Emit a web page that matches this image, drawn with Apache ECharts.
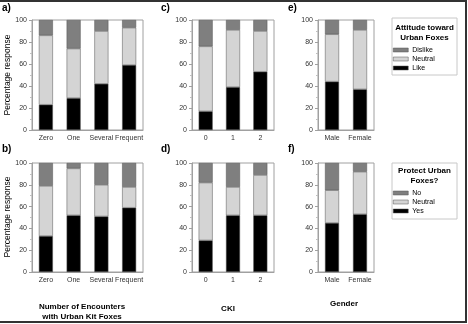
<!DOCTYPE html>
<html><head><meta charset="utf-8">
<script src="https://cdn.jsdelivr.net/npm/echarts@6/dist/echarts.min.js"></script>
<style>html,body{margin:0;padding:0;background:#fff}#c{width:468px;height:324px}</style>
</head><body><div id="c"></div>
<script>
// ---- data ----
const encounterCats = ['Zero', 'One', 'Several', 'Frequent'];
const ckiCats = ['0', '1', '2'];
const genderCats = ['Male', 'Female'];

// Attitude toward urban foxes (top row)
const aLike    = [23, 29, 42, 59];
const aNeutral = [63, 45, 48, 34];
const aDislike = [14, 26, 10, 7];
const cLike    = [17, 39, 53];
const cNeutral = [59, 52, 37];
const cDislike = [24, 9, 10];
const eLike    = [44, 37];
const eNeutral = [43, 54];
const eDislike = [13, 9];

// Protect urban foxes (bottom row)
const bYes     = [33, 52, 51, 59];
const bNeutral = [46, 43, 29, 19];
const bNo      = [21, 5, 20, 22];
const dYes     = [29, 52, 52];
const dNeutral = [53, 26, 37];
const dNo      = [18, 22, 11];
const fYes     = [45, 53];
const fNeutral = [30, 39];
const fNo      = [25, 8];

const yTicks = [0, 20, 40, 60, 80, 100];

// ---- chart ----
const FONT = 'Liberation Sans, Arial, sans-serif';
const C_DARK = '#7f7f7f', C_LIGHT = '#d4d4d4', C_BLACK = '#000000';

const gridDefs = [
  {left: 32,  top: 20,  width: 111, height: 110, cats: encounterCats, s: [aLike, aNeutral, aDislike], n: ['Like','Neutral','Dislike']},
  {left: 32,  top: 163, width: 111, height: 109, cats: encounterCats, s: [bYes, bNeutral, bNo], n: ['Yes','Neutral','No']},
  {left: 192, top: 20,  width: 82,  height: 110, cats: ckiCats, s: [cLike, cNeutral, cDislike], n: ['Like','Neutral','Dislike']},
  {left: 192, top: 163, width: 82,  height: 109, cats: ckiCats, s: [dYes, dNeutral, dNo], n: ['Yes','Neutral','No']},
  {left: 318, top: 20,  width: 56,  height: 110, cats: genderCats, s: [eLike, eNeutral, eDislike], n: ['Like','Neutral','Dislike']},
  {left: 318, top: 163, width: 56,  height: 109, cats: genderCats, s: [fYes, fNeutral, fNo], n: ['Yes','Neutral','No']}
];
const colors = [C_BLACK, C_LIGHT, C_DARK];

const grid = [], xAxis = [], yAxis = [], series = [];
gridDefs.forEach((g, i) => {
  grid.push({left: g.left, top: g.top, width: g.width, height: g.height, show: true,
    borderColor: '#a0a0a0', borderWidth: 1, backgroundColor: 'transparent'});
  xAxis.push({type: 'category', gridIndex: i, data: g.cats,
    axisLine: {show: true, lineStyle: {color: '#a0a0a0'}}, axisTick: {show: false},
    axisLabel: {fontFamily: FONT, fontSize: 7, color: '#333', margin: 5, interval: 0}});
  yAxis.push({type: 'value', gridIndex: i, min: yTicks[0], max: yTicks[yTicks.length-1], interval: 20,
    axisLine: {show: true, lineStyle: {color: '#a0a0a0'}},
    axisTick: {show: true, inside: false, length: 3, lineStyle: {color: '#a0a0a0'}},
    minorTick: {show: true, splitNumber: 2, length: 2, lineStyle: {color: '#c0c0c0'}},
    splitLine: {show: false},
    axisLabel: {fontFamily: FONT, fontSize: 7, color: '#333', margin: 5}});
  g.s.forEach((arr, k) => {
    series.push({type: 'bar', name: g.n[k], xAxisIndex: i, yAxisIndex: i, stack: 'g' + i,
      data: arr, barWidth: 14, itemStyle: {color: colors[k], borderColor: '#555', borderWidth: 0.5},
      emphasis: {disabled: true}, animation: false});
  });
});

const txt = (x, y, s, size, weight, extra) => Object.assign({type: 'text', x: x, y: y,
  style: {text: s, font: (weight||'normal') + ' ' + size + 'px ' + FONT, fill: '#000'}}, extra || {});

const graphic = [
  // outer frame (top, right, bottom)
  {type: 'polyline', shape: {points: [[0,1],[466,1],[466,322],[0,322]]}, style: {stroke: '#333', lineWidth: 2, fill: null}},
  // panel labels
  txt(2, 3, 'a)', 10, 'bold'), txt(2, 144, 'b)', 10, 'bold'),
  txt(161, 3, 'c)', 10, 'bold'), txt(161, 144, 'd)', 10, 'bold'),
  txt(288, 3, 'e)', 10, 'bold'), txt(288, 144, 'f)', 10, 'bold'),
  // y titles
  {type: 'text', x: 8, y: 75, rotation: Math.PI/2,
    style: {text: 'Percentage response', font: 'normal 8.5px ' + FONT, fill: '#000', textAlign: 'center', textVerticalAlign: 'middle'}},
  {type: 'text', x: 8, y: 217, rotation: Math.PI/2,
    style: {text: 'Percentage response', font: 'normal 8.5px ' + FONT, fill: '#000', textAlign: 'center', textVerticalAlign: 'middle'}},
  // x titles
  {type: 'text', x: 82, y: 312, style: {text: 'Number of Encounters\nwith Urban Kit Foxes', font: 'bold 8px ' + FONT, fill: '#000',
    textAlign: 'center', textVerticalAlign: 'middle', lineHeight: 10}},
  {type: 'text', x: 228, y: 309, style: {text: 'CKI', font: 'bold 8px ' + FONT, fill: '#000', textAlign: 'center', textVerticalAlign: 'middle'}},
  {type: 'text', x: 344, y: 304, style: {text: 'Gender', font: 'bold 8px ' + FONT, fill: '#000', textAlign: 'center', textVerticalAlign: 'middle'}},
  // legend boxes
  {type: 'rect', shape: {x: 392, y: 18, width: 65, height: 57}, style: {fill: '#fff', stroke: '#c8c8c8', lineWidth: 1}, z: -1},
  {type: 'rect', shape: {x: 392, y: 163, width: 65, height: 56}, style: {fill: '#fff', stroke: '#c8c8c8', lineWidth: 1}, z: -1},
  {type: 'text', x: 424.5, y: 33, style: {text: 'Attitude toward\nUrban Foxes', font: 'bold 8px ' + FONT, fill: '#000',
    textAlign: 'center', textVerticalAlign: 'middle', lineHeight: 10}},
  {type: 'text', x: 424.5, y: 176, style: {text: 'Protect Urban\nFoxes?', font: 'bold 8px ' + FONT, fill: '#000',
    textAlign: 'center', textVerticalAlign: 'middle', lineHeight: 10}}
];

const legendCommon = {orient: 'vertical', left: 393, itemWidth: 15, itemHeight: 4, itemGap: 0, icon: 'rect',
  textStyle: {fontFamily: FONT, fontSize: 7, color: '#000', lineHeight: 9, padding: [0,0,0,-1]},
  itemStyle: {borderColor: '#555', borderWidth: 0.5}, padding: 0, selectedMode: false};

const option = {
  animation: false,
  grid: grid, xAxis: xAxis, yAxis: yAxis, series: series,
  legend: [
    Object.assign({}, legendCommon, {top: 45.5, data: ['Dislike', 'Neutral', 'Like']}),
    Object.assign({}, legendCommon, {top: 188.5, data: ['No', 'Neutral', 'Yes']})
  ],
  graphic: graphic
};
const chart = echarts.init(document.getElementById('c'), null, {renderer: 'canvas'});
chart.setOption(option);
</script></body></html>
